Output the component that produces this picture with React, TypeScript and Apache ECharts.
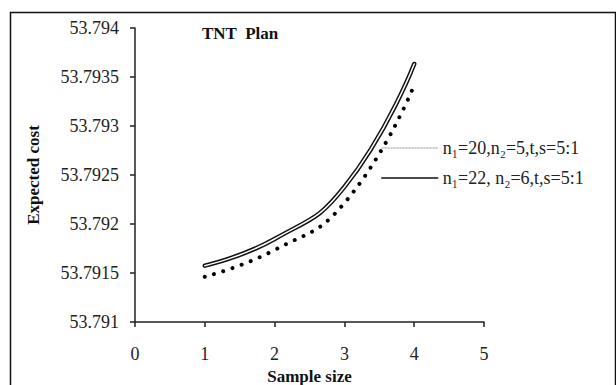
import React, { useEffect, useRef } from "react";
import * as echarts from "echarts";

const sampleSizes = [1, 2, 3, 4];
const costA = [53.791462, 53.791735, 53.792214, 53.793418]; // n1=20, n2=5 (dotted)
const costB = [53.791575, 53.791847, 53.792378, 53.793633]; // n1=22, n2=6 (solid)
const nameA = "n\u2081=20,n\u2082=5,t,s=5:1";
const nameB = "n\u2081=22, n\u2082=6,t,s=5:1";
const yMin = 53.791;
const yMax = 53.794;
const yStep = 0.0005;
const xMin = 0;
const xMax = 5;
const titleText = "TNT  Plan";
const xName = "Sample size";
const yName = "Expected cost";

const serif = "'Liberation Serif', 'Times New Roman', serif";

export default function App() {
  const ref = useRef<HTMLDivElement>(null);
  useEffect(() => {
    if (!ref.current) return;
    const chart = echarts.init(ref.current, null, { renderer: "svg" });
    const pairsA = sampleSizes.map((x, i) => [x, costA[i]]);
    const pairsB = sampleSizes.map((x, i) => [x, costB[i]]);
    chart.setOption({
      animation: false,
      backgroundColor: "#ffffff",
      color: ["#000", "#111", "#fff"],
      title: {
        text: titleText,
        left: 197,
        top: 20,
        textStyle: { fontFamily: serif, fontWeight: "bold", fontSize: 17, color: "#111" },
      },
      legend: {
        orient: "vertical",
        left: 381,
        top: 139,
        padding: 0,
        itemWidth: 56,
        itemHeight: 18,
        itemGap: 12,
        selectedMode: false,
        textStyle: { fontFamily: serif, fontSize: 18, color: "#222", lineHeight: 18 },
        data: [
          { name: nameA, itemStyle: { opacity: 0 }, lineStyle: { color: "#999", width: 1, type: [1.5, 1.5] } },
          { name: nameB, itemStyle: { opacity: 0 }, lineStyle: { color: "#111", width: 1.5, type: "solid" } },
        ],
      },
      grid: { left: 135, right: 132, top: 28, bottom: 63, containLabel: false, outerBoundsMode: "none" },
      xAxis: {
        type: "value",
        min: xMin,
        max: xMax,
        interval: 1,
        splitLine: { show: false },
        axisLine: { lineStyle: { color: "#222", width: 1.5 } },
        axisTick: { length: 5, lineStyle: { color: "#222", width: 1.5 } },
        axisLabel: { fontFamily: serif, fontSize: 18, color: "#222", margin: 23 },
        name: xName,
        nameLocation: "middle",
        nameGap: 44,
        nameTextStyle: { fontFamily: serif, fontWeight: "bold", fontSize: 17, color: "#111" },
      },
      yAxis: {
        type: "value",
        min: yMin,
        max: yMax,
        interval: yStep,
        splitLine: { show: false },
        axisLine: { show: true, lineStyle: { color: "#222", width: 1.5 } },
        axisTick: { show: true, length: 5, lineStyle: { color: "#222", width: 1.5 } },
        axisLabel: { fontFamily: serif, fontSize: 18, color: "#222", margin: 16 },
        name: yName,
        nameLocation: "middle",
        nameGap: 93,
        nameRotate: 90,
        nameTextStyle: { fontFamily: serif, fontWeight: "bold", fontSize: 17, color: "#111" },
      },
      series: [
        {
          name: nameA,
          type: "line",
          data: pairsA,
          smooth: 0.5,
          showSymbol: false,
          symbol: "none",
          itemStyle: { color: "#000" },
          lineStyle: { color: "#000", width: 4, type: [0.01, 9.7], cap: "round" },
        },
        {
          name: nameB,
          type: "line",
          data: pairsB,
          smooth: 0.5,
          showSymbol: false,
          symbol: "none",
          itemStyle: { color: "#111" },
          lineStyle: { color: "#111", width: 4.5, cap: "round" },
        },
        {
          name: "inner",
          type: "line",
          data: pairsB,
          smooth: 0.5,
          showSymbol: false,
          symbol: "none",
          silent: true,
          itemStyle: { color: "#fff" },
          lineStyle: { color: "#fff", width: 1.5, cap: "round" },
        },
      ],
      graphic: [
        {
          type: "rect",
          left: 8,
          top: 10,
          shape: { width: 605, height: 390 },
          style: { fill: "none", stroke: "#111", lineWidth: 1.5 },
          silent: true,
          z: 100,
        },
      ],
    });
    return () => chart.dispose();
  }, []);
  return (
    <div
      ref={ref}
      style={{ position: "fixed", left: 0, top: 0, width: 616, height: 385 }}
    />
  );
}
